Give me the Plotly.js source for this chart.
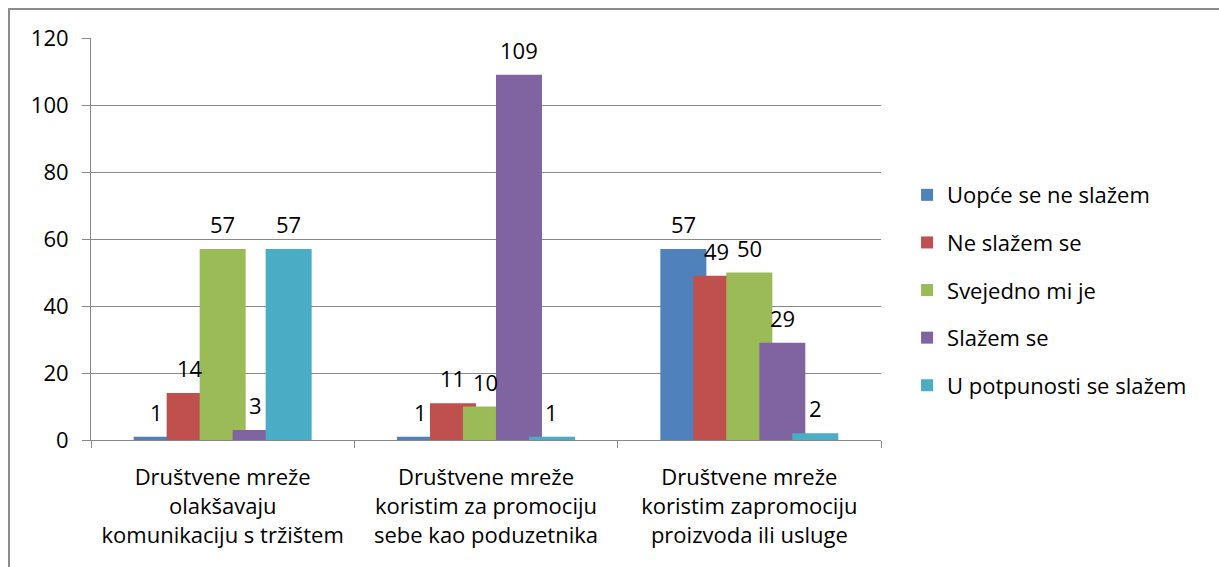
<!DOCTYPE html>
<html>
<head>
<meta charset="utf-8">
<script src="https://cdn.plot.ly/plotly-3.0.1.min.js"></script>
<style>
  html, body { margin:0; padding:0; background:#fff; }
  #wrap { position:relative; width:1219px; height:567px; overflow:hidden; }
  #chart { width:1219px; height:567px; }
  #frame { position:absolute; left:8px; top:8px; width:1300px; height:700px;
           border-left:2px solid #8c8c8c; border-top:2px solid #8c8c8c; pointer-events:none; }
</style>
</head>
<body>
<div id="wrap"><div id="chart"></div><div id="frame"></div></div>
<script>
// ---- data ----
const categories = [
  "Društvene mreže<br>olakšavaju<br>komunikaciju s tržištem",
  "Društvene mreže<br>koristim za promociju<br>sebe kao poduzetnika",
  "Društvene mreže<br>koristim zapromociju<br>proizvoda ili usluge"
];
const seriesNames = ["Uopće se ne slažem", "Ne slažem se", "Svejedno mi je", "Slažem se", "U potpunosti se slažem"];
const uopceSeNeSlazem   = [1, 1, 57];
const neSlazemSe        = [14, 11, 49];
const svejednoMiJe      = [57, 10, 50];
const slazemSe          = [3, 109, 29];
const uPotpunostiSlazem = [57, 1, 2];
const yTicks = [0, 20, 40, 60, 80, 100, 120];

// ---- styling ----
const seriesValues = [uopceSeNeSlazem, neSlazemSe, svejednoMiJe, slazemSe, uPotpunostiSlazem];
const colors = ["#4F81BD", "#C0504D", "#9BBB59", "#8064A2", "#4BACC6"];
const FONT = "Open Sans, Noto Sans, sans-serif";
const FS = 22;
const barW = 0.1747;      // bar width in category units
const step = 0.1253;      // spacing between consecutive series (bars overlap)
const firstOff = -0.338;  // left edge of first bar relative to category centre

const xIdx = categories.map((c, i) => i);
const traces = seriesValues.map((vals, s) => ({
  type: "bar",
  name: seriesNames[s],
  x: xIdx,
  y: vals,
  width: barW,
  offset: firstOff + s * step,
  marker: { color: colors[s], line: { width: 0 } },
  legendgroup: "g" + s,
  hoverinfo: "y"
}));

const annotations = [];
seriesValues.forEach((vals, s) => {
  vals.forEach((v, i) => {
    annotations.push({
      xref: "x", yref: "y",
      x: i + firstOff + s * step + barW / 2,
      y: v,
      text: String(v),
      showarrow: false,
      yanchor: "middle",
      yshift: 25,
      font: { family: FONT, size: FS, color: "#000" }
    });
  });
});

const layout = {
  width: 1219, height: 567,
  margin: { l: 91, r: 338, t: 38, b: 127, pad: 0 },
  paper_bgcolor: "#fff", plot_bgcolor: "#fff",
  barmode: "overlay",
  showlegend: true,
  legend: {
    x: 1.033, xanchor: "left", y: 0.373, yanchor: "middle",
    font: { family: FONT, size: FS, color: "#000" },
    tracegroupgap: 16, traceorder: "grouped",
    itemwidth: 30, bgcolor: "rgba(0,0,0,0)"
  },
  xaxis: {
    type: "linear",
    range: [-0.5, categories.length - 0.5],
    tickmode: "array",
    tickvals: xIdx,
    ticktext: categories,
    showgrid: false,
    zeroline: false,
    showline: true, linecolor: "#898989", linewidth: 1,
    ticks: "",
    tickfont: { family: FONT, size: FS, color: "#000" },
    ticklabelstandoff: 18,
    fixedrange: true
  },
  xaxis2: {
    overlaying: "x", matches: "x", anchor: "y",
    range: [-0.5, categories.length - 0.5],
    tickmode: "array",
    tickvals: categories.map((c, i) => i - 0.5).concat([categories.length - 0.5]),
    ticks: "outside", ticklen: 7, tickcolor: "#898989", tickwidth: 1,
    showticklabels: false, showgrid: false, zeroline: false, showline: false
  },
  yaxis: {
    range: [0, 120],
    tickmode: "array", tickvals: yTicks,
    showgrid: true, gridcolor: "#898989", gridwidth: 1,
    zeroline: false,
    showline: true, linecolor: "#898989", linewidth: 1,
    ticks: "outside", ticklen: 8, tickcolor: "#898989",
    tickfont: { family: FONT, size: FS, color: "#000" },
    ticklabelstandoff: 9,
    fixedrange: true
  },
  annotations: annotations
};

// invisible trace to activate xaxis2 (tick marks at category boundaries)
traces.push({ type: "scatter", x: [0], y: [0], xaxis: "x2", yaxis: "y",
  mode: "markers", marker: { opacity: 0 }, showlegend: false, hoverinfo: "skip" });

Plotly.newPlot("chart", traces, layout, { displayModeBar: false, staticPlot: true });
</script>
</body>
</html>
